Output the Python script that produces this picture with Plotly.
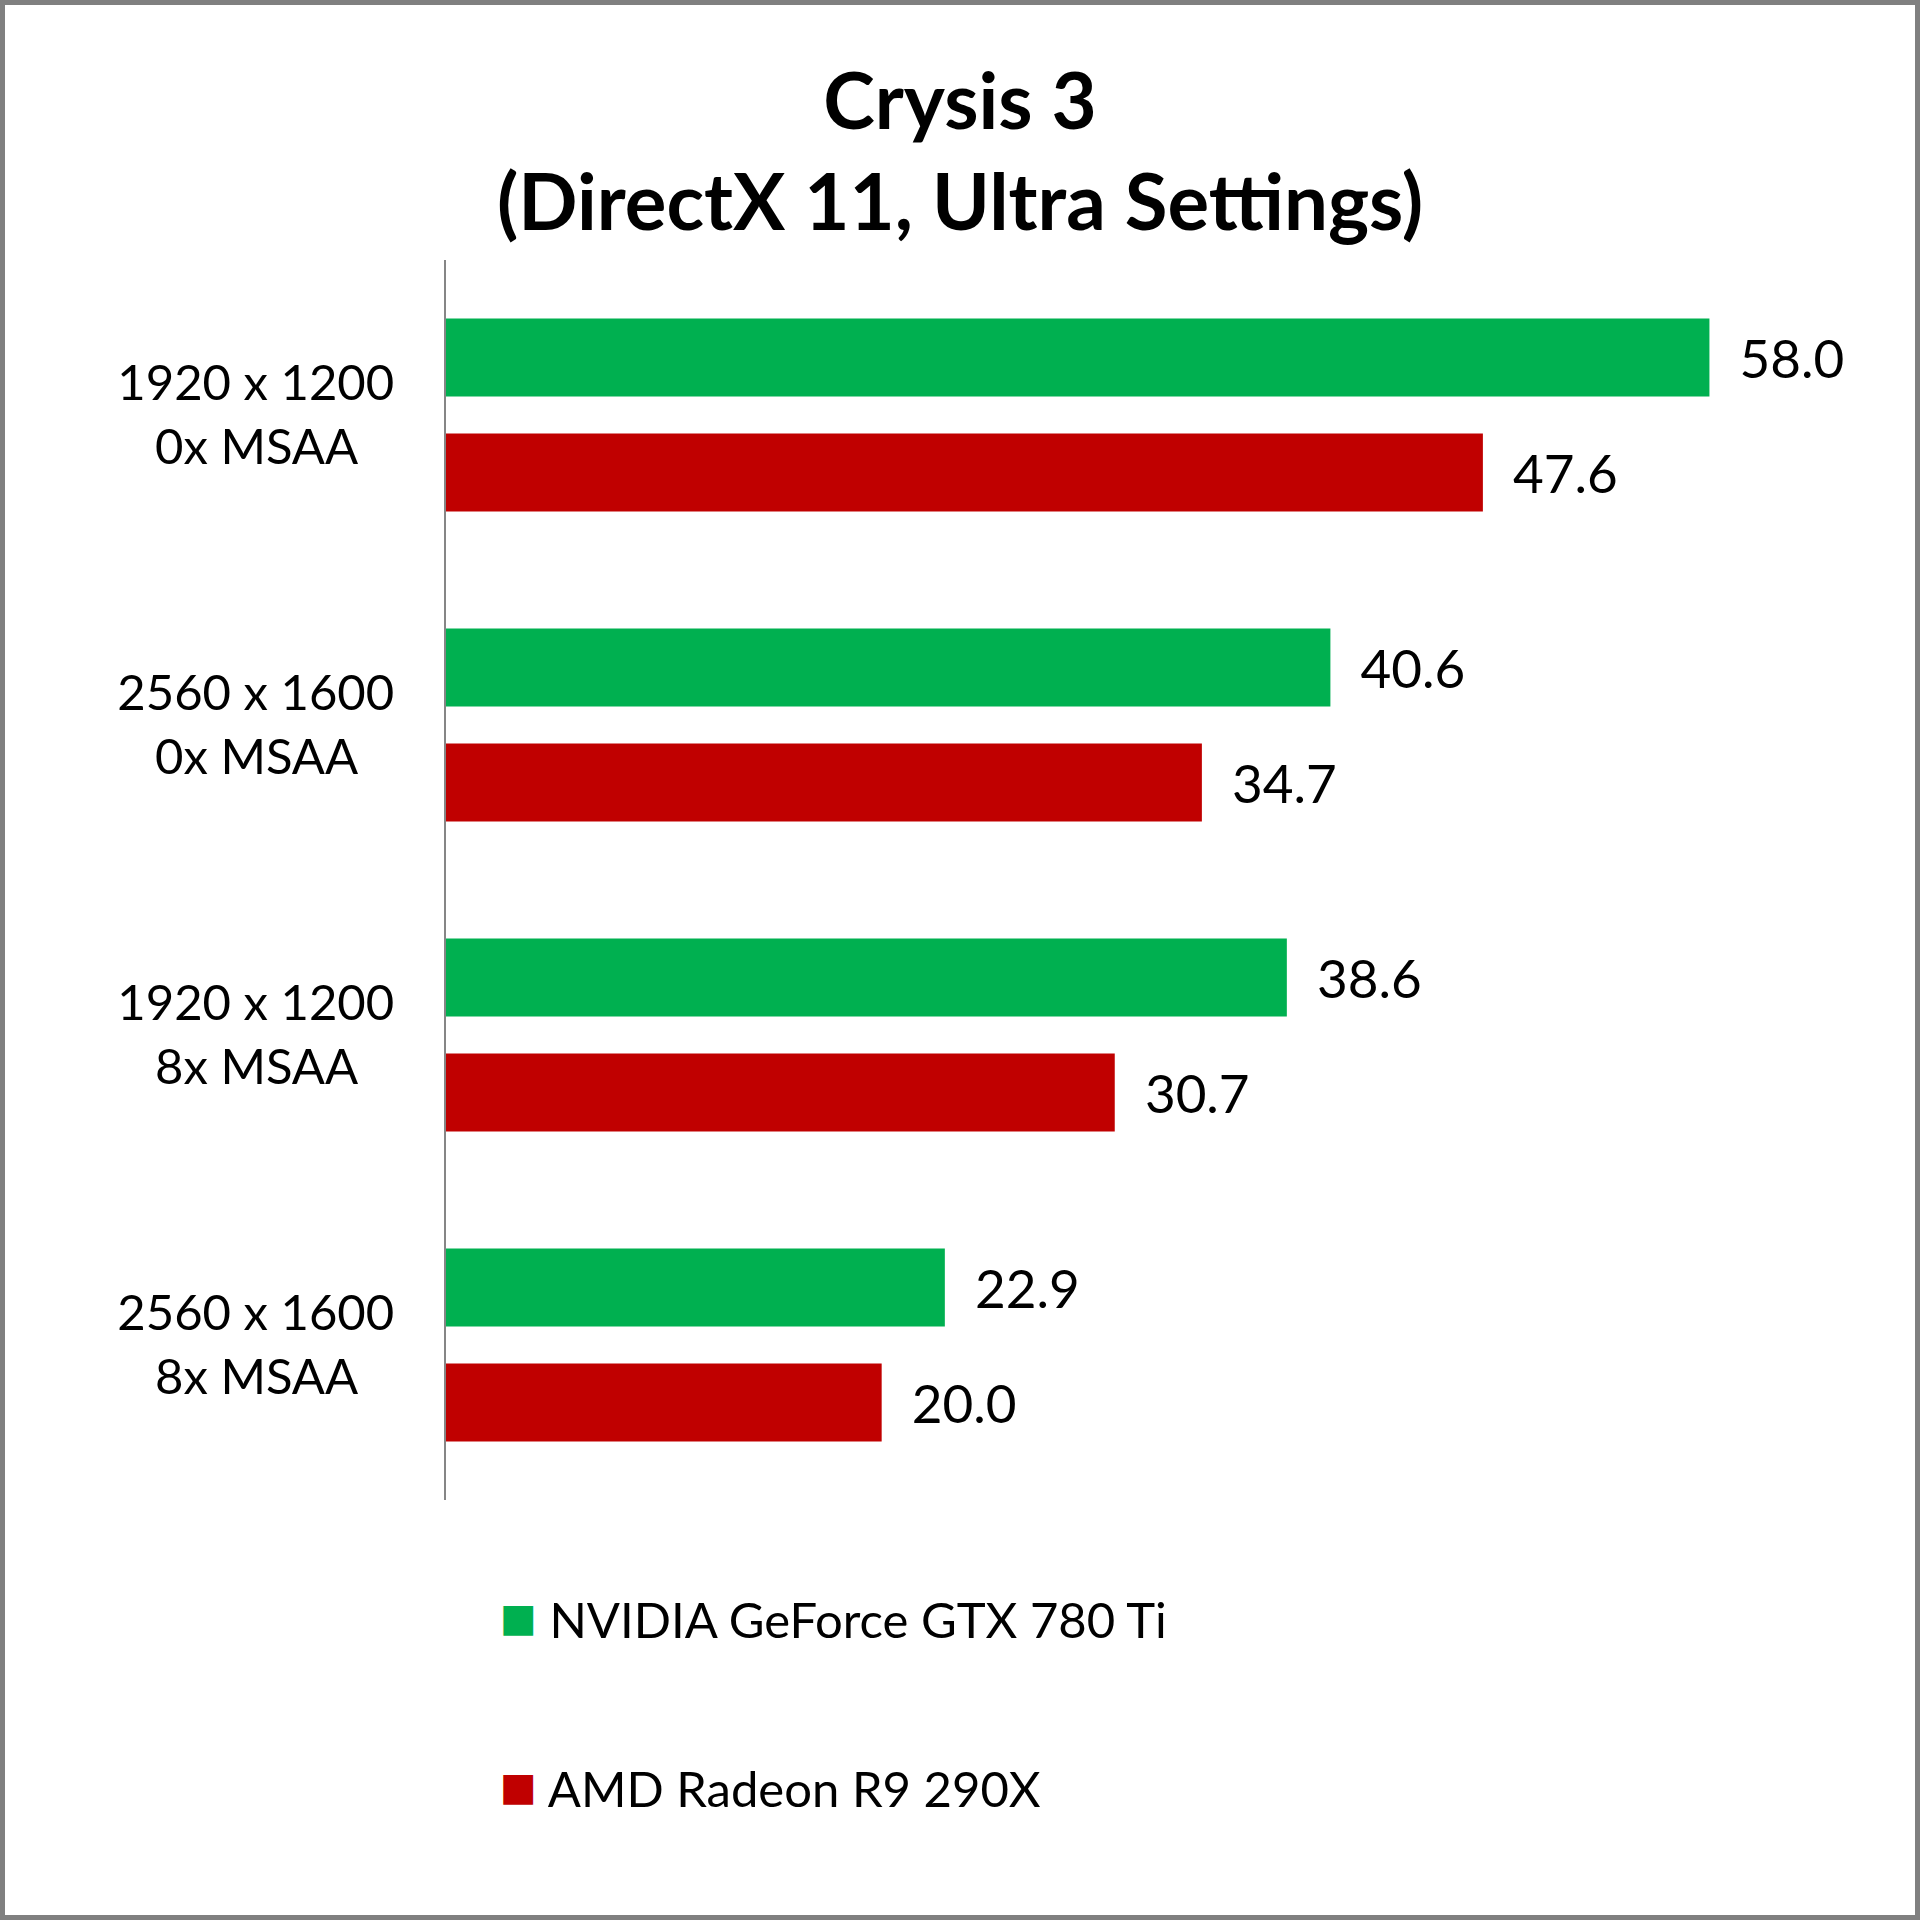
import plotly.graph_objects as go

# ---- data ----
resolutions = ["1920 x 1200", "2560 x 1600", "1920 x 1200", "2560 x 1600"]
msaa_modes = ["0x MSAA", "0x MSAA", "8x MSAA", "8x MSAA"]
series_names = ["NVIDIA GeForce GTX 780 Ti", "AMD Radeon R9 290X"]
nvidia_fps = [58.0, 40.6, 38.6, 22.9]
amd_fps = [47.6, 34.7, 30.7, 20.0]
title_lines = ["Crysis 3", "(DirectX 11, Ultra Settings)"]

# ---- style ----
W = H = 1920
L, R, T, B = 446, 167, 260, 420
PW, PH = W - L - R, H - T - B
FONT = "Lato, 'Open Sans', sans-serif"
GREEN, RED = "#00B050", "#C00000"
NB = "\u00a0"

def px_x(p):
    return (p - L) / PW

def px_y(p):
    return (H - B - p) / PH

categories = [f"{r}<br>{m}{NB*3}" for r, m in zip(resolutions, msaa_modes)]

fig = go.Figure()
for name, vals, col in [(series_names[0], nvidia_fps, GREEN), (series_names[1], amd_fps, RED)]:
    fig.add_trace(go.Bar(
        y=categories, x=vals, name=name, orientation="h",
        marker=dict(color=col, line=dict(width=0)),
        text=[f"{NB*2}{v:.1f}" for v in vals],
        textposition="outside", cliponaxis=False,
        textfont=dict(family=FONT, size=53, color="#000000"),
        showlegend=False,
    ))

fig.update_layout(
    width=W, height=H,
    margin=dict(l=L, r=R, t=T, b=B, autoexpand=False),
    paper_bgcolor="white", plot_bgcolor="white",
    barmode="group", bargap=0.258, bargroupgap=0.322,
    title=dict(
        text="<br>".join(title_lines),
        x=0.5, xanchor="center", xref="container",
        y=1 - 129 / H, yanchor="middle", yref="container",
        font=dict(family=FONT, size=78, color="#000000", weight="bold"),
    ),
    xaxis=dict(range=[0, 60], visible=False, showgrid=False, zeroline=False),
    yaxis=dict(
        autorange="reversed", showline=True, linecolor="#868686", linewidth=2,
        ticks="", showgrid=False, zeroline=False, ticklabelstandoff=40,
        tickfont=dict(family=FONT, size=49, color="#000000"),
    ),
)

# legend (drawn as text with coloured square glyphs)
for name, col, yc in [(series_names[0], GREEN, 1619), (series_names[1], RED, 1788)]:
    fig.add_annotation(
        xref="paper", yref="paper", x=px_x(498), y=px_y(yc),
        xanchor="left", yanchor="middle", showarrow=False,
        text=(f'<span style="color:{col};font-family:DejaVu Sans;font-size:39px;'
              f'baseline-shift:7px">■</span> {name}'),
        font=dict(family=FONT, size=49, color="#000000"),
    )

# outer frame
fig.add_shape(
    type="rect", xref="paper", yref="paper",
    x0=px_x(2.5), x1=px_x(W - 2.5), y0=px_y(2.5), y1=px_y(H - 2.5),
    line=dict(color="#808080", width=5), fillcolor="rgba(0,0,0,0)", layer="above",
)

fig.write_html(
    "out.html",
    config={"displayModeBar": False},
    post_script="document.body.style.margin='0';document.body.style.padding='0';document.body.style.overflow='hidden';",
)
